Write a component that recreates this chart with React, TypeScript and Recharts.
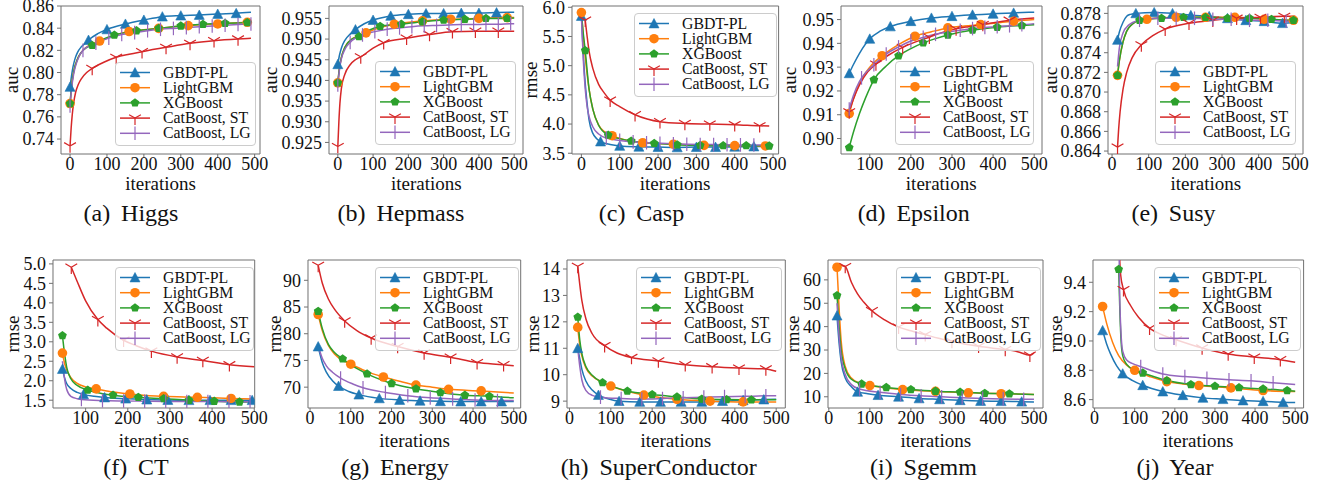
import React from "react";
import { LineChart, Line, XAxis, YAxis, ReferenceArea } from "recharts";

// each point: [iteration, value, marker?]
type Pt = number[];

// ---------- (a) Higgs ----------
const higgsGbdt: Pt[] = [[0,0.787,1],[4,0.797],[8,0.805],[14,0.813],[20,0.818],[30,0.823],[40,0.826],[50,0.8293,1],[75,0.835],[100,0.8389,1],[150,0.8438,1],[200,0.8474,1],[250,0.8504,1],[300,0.8513,1],[350,0.8519,1],[400,0.8528,1],[450,0.8534,1],[490,0.8543]];
const higgsLgb: Pt[] = [[0,0.772,1],[5,0.79],[10,0.801],[20,0.812],[30,0.818],[45,0.823],[60,0.826],[80,0.8284,1],[120,0.8335],[160,0.837,1],[200,0.8385],[240,0.8398,1],[320,0.8423,1],[400,0.8438,1],[480,0.8453,1],[490,0.8455]];
const higgsXgb: Pt[] = [[0,0.772,1],[5,0.79],[10,0.801],[20,0.812],[30,0.818],[45,0.8225],[60,0.8245,1],[90,0.83],[120,0.8338,1],[180,0.8377,1],[240,0.8398,1],[300,0.842,1],[360,0.8435,1],[420,0.8444,1],[480,0.845,1],[490,0.8451]];
const higgsSt: Pt[] = [[0,0.7337,1],[3,0.75],[6,0.762],[10,0.773],[15,0.782],[22,0.789],[32,0.795],[45,0.8],[60,0.8037,1],[90,0.809],[125,0.8137,1],[160,0.8165],[195,0.8188,1],[260,0.8227,1],[325,0.8263,1],[390,0.8287,1],[455,0.8302,1],[490,0.8308]];
const higgsLg: Pt[] = [[0,0.7698,1],[5,0.788],[10,0.799],[20,0.811],[35,0.82,1],[70,0.8265,1],[105,0.831,1],[140,0.8343,1],[175,0.836,1],[210,0.8377,1],[245,0.839,1],[280,0.8398,1],[315,0.8405,1],[350,0.8413,1],[385,0.842,1],[420,0.8427,1],[455,0.8433,1],[490,0.8438,1]];
const higgsTicks = [0.74, 0.76, 0.78, 0.8, 0.82, 0.84, 0.86];

// ---------- (b) Hepmass ----------
const hepGbdt: Pt[] = [[0,0.9439,1],[5,0.9462],[10,0.9478],[20,0.9497],[35,0.9512],[50,0.9523,1],[75,0.9537],[100,0.9546,1],[150,0.9556,1],[200,0.956,1],[250,0.9562,1],[300,0.9562,1],[350,0.9563,1],[400,0.9563,1],[450,0.9564,1],[500,0.9565]];
const hepLgb: Pt[] = [[0,0.9394,1],[5,0.9432],[10,0.9455],[20,0.948],[40,0.95],[60,0.9508],[80,0.9515,1],[120,0.9528],[160,0.9536,1],[240,0.9544,1],[320,0.9548,1],[400,0.955,1],[480,0.9552,1],[500,0.9552]];
const hepXgb: Pt[] = [[0,0.9394,1],[5,0.9432],[10,0.9455],[20,0.948],[40,0.95],[60,0.9506,1],[90,0.9522],[120,0.9531,1],[180,0.9536,1],[240,0.9542,1],[300,0.9546,1],[360,0.9548,1],[420,0.955,1],[480,0.955,1],[500,0.9551]];
const hepSt: Pt[] = [[0,0.924,1],[3,0.93],[6,0.9345],[10,0.938],[20,0.9415],[35,0.9438],[50,0.945],[65,0.9457,1],[100,0.9478],[130,0.9491,1],[195,0.9502,1],[260,0.9511,1],[325,0.9518,1],[390,0.9519,1],[455,0.9519,1],[500,0.9519]];
const hepLg: Pt[] = [[0,0.9389,1],[5,0.9428],[10,0.9452],[20,0.9475],[35,0.9492,1],[70,0.951,1],[105,0.9518,1],[140,0.9524,1],[175,0.9527,1],[210,0.953,1],[245,0.9532,1],[280,0.9533,1],[315,0.9534,1],[350,0.9535,1],[385,0.9535,1],[420,0.9536,1],[455,0.9536,1],[490,0.9537,1],[500,0.9537]];
const hepTicks = [0.925, 0.93, 0.935, 0.94, 0.945, 0.95, 0.955];

// ---------- (c) Casp ----------
const caspGbdt: Pt[] = [[0,5.85,1],[5,5.2],[10,4.7],[15,4.35],[20,4.07],[30,3.84],[40,3.75],[50,3.7,1],[75,3.65],[100,3.625,1],[150,3.61,1],[200,3.605,1],[250,3.6,1],[300,3.605,1],[350,3.605,1],[400,3.61,1],[450,3.615,1],[490,3.62]];
const caspLgb: Pt[] = [[0,5.91,1],[5,5.5],[10,5.15],[20,4.6],[30,4.25],[45,3.98],[60,3.87],[80,3.8,1],[120,3.72],[160,3.68,1],[240,3.655,1],[320,3.635,1],[400,3.63,1],[480,3.625,1],[490,3.625]];
const caspXgb: Pt[] = [[0,5.9],[5,5.55],[10,5.26,1],[20,4.6],[30,4.25],[45,3.98],[70,3.81,1],[100,3.75],[130,3.71,1],[190,3.67,1],[250,3.645,1],[310,3.635,1],[370,3.63,1],[430,3.63,1],[490,3.625,1]];
const caspSt: Pt[] = [[10,5.78,1],[15,5.5],[20,5.25],[30,4.95],[45,4.68],[60,4.53],[75,4.41,1],[100,4.3],[140,4.16,1],[205,4.04,1],[270,4.01,1],[335,4.0,1],[400,3.99,1],[465,3.97,1],[490,3.965]];
const caspLg: Pt[] = [[0,5.85],[5,5.1],[10,4.6],[15,4.3],[20,4.13],[30,3.95],[45,3.83],[65,3.76,1],[100,3.72,1],[135,3.695,1],[170,3.68,1],[205,3.67,1],[240,3.662,1],[275,3.655,1],[310,3.65,1],[345,3.648,1],[380,3.645,1],[415,3.643,1],[450,3.641,1],[490,3.64]];
const caspTicks = [3.5, 4.0, 4.5, 5.0, 5.5, 6.0];

// ---------- (d) Epsilon ----------
const epsGbdt: Pt[] = [[50,0.9274,1],[60,0.931],[75,0.9358],[100,0.9419,1],[125,0.9451],[150,0.9471,1],[200,0.9493,1],[250,0.9507,1],[300,0.9514,1],[350,0.952,1],[400,0.9524,1],[450,0.9528,1],[500,0.9531]];
const epsLgb: Pt[] = [[50,0.9105,1],[60,0.9165],[75,0.9232],[100,0.93],[130,0.9348,1],[170,0.9395],[210,0.943,1],[250,0.9449],[290,0.9465,1],[330,0.9473],[370,0.9479,1],[410,0.9486],[450,0.9493,1],[500,0.95]];
const epsXgb: Pt[] = [[50,0.8962,1],[60,0.9025],[75,0.9105],[90,0.9172],[110,0.9247,1],[140,0.9305],[170,0.9348,1],[200,0.9378],[230,0.9402,1],[260,0.942],[290,0.9435,1],[350,0.9456,1],[410,0.9468,1],[470,0.9475,1],[500,0.9478]];
const epsSt: Pt[] = [[50,0.9112,1],[60,0.9165],[75,0.9225],[95,0.928],[115,0.9313,1],[145,0.935],[180,0.9383,1],[210,0.9405],[245,0.9426,1],[275,0.9445],[310,0.9461,1],[340,0.947],[375,0.9479,1],[440,0.9497,1],[500,0.9507]];
const epsLg: Pt[] = [[50,0.9124,1],[60,0.918],[75,0.924],[80,0.9255,1],[110,0.931,1],[140,0.9355,1],[170,0.9385,1],[200,0.941,1],[230,0.9425,1],[260,0.9438,1],[290,0.9448,1],[320,0.9455,1],[350,0.9462,1],[380,0.9467,1],[410,0.947,1],[440,0.9474,1],[470,0.9478,1],[500,0.9483]];
const epsTicks = [0.9, 0.91, 0.92, 0.93, 0.94, 0.95];

// ---------- (e) Susy ----------
const susyGbdt: Pt[] = [[15,0.8753,1],[20,0.8761],[30,0.8771],[40,0.8777],[50,0.8779],[65,0.878,1],[115,0.8781,1],[165,0.878,1],[215,0.8778,1],[265,0.8777,1],[315,0.8775,1],[365,0.8773,1],[415,0.8772,1],[465,0.877,1],[500,0.8771]];
const susyLgb: Pt[] = [[15,0.8717,1],[20,0.8732],[30,0.8751],[40,0.8762],[55,0.8769],[75,0.8773],[95,0.8774,1],[175,0.8776,1],[255,0.8776,1],[335,0.8776,1],[415,0.8774,1],[495,0.8773,1],[500,0.8773]];
const susyXgb: Pt[] = [[15,0.8717,1],[20,0.8732],[30,0.8751],[40,0.8762],[55,0.8769],[75,0.8773,1],[135,0.8775,1],[195,0.8776,1],[255,0.8776,1],[315,0.8775,1],[375,0.8775,1],[435,0.8774,1],[495,0.8773,1],[500,0.8773]];
const susySt: Pt[] = [[15,0.8644,1],[18,0.8662],[22,0.868],[30,0.8703],[40,0.872],[55,0.8735],[80,0.8748,1],[110,0.8757],[145,0.8764,1],[210,0.877,1],[275,0.8773,1],[340,0.8775,1],[405,0.8776,1],[470,0.8777,1],[500,0.8777]];
const susyLg: Pt[] = [[15,0.8726],[20,0.8745],[30,0.876],[45,0.8768],[75,0.8773,1],[125,0.8775,1],[175,0.8775,1],[225,0.8775,1],[275,0.8774,1],[325,0.8774,1],[375,0.8773,1],[425,0.8773,1],[475,0.8772,1],[500,0.8772]];
const susyTicks = [0.864, 0.866, 0.868, 0.87, 0.872, 0.874, 0.876, 0.878];

// ---------- (f) CT ----------
const ctGbdt: Pt[] = [[45,2.3,1],[50,2.08],[55,1.93],[65,1.8],[80,1.7],[95,1.65,1],[120,1.6],[145,1.57,1],[195,1.54,1],[245,1.515,1],[295,1.505,1],[345,1.5,1],[395,1.5,1],[445,1.5,1],[495,1.5,1],[500,1.5]];
const ctLgb: Pt[] = [[45,2.71,1],[50,2.45],[55,2.28],[65,2.08],[80,1.93],[100,1.84],[125,1.79,1],[165,1.71],[205,1.66,1],[245,1.62],[285,1.6,1],[365,1.575,1],[445,1.545,1],[500,1.53]];
const ctXgb: Pt[] = [[45,3.16,1],[50,2.7],[55,2.35],[65,2.05],[80,1.88],[105,1.76,1],[135,1.68],[165,1.63,1],[225,1.575,1],[285,1.54,1],[345,1.5,1],[405,1.475,1],[465,1.455,1],[500,1.46]];
const ctSt: Pt[] = [[66,4.915,1],[80,4.55],[100,4.05],[129,3.57,1],[150,3.35],[190,3.04,1],[220,2.9],[256,2.76,1],[317,2.61,1],[378,2.52,1],[441,2.41,1],[500,2.36]];
const ctLg: Pt[] = [[45,2.5],[50,2.05],[55,1.78],[65,1.6],[80,1.54],[90,1.52,1],[140,1.49,1],[190,1.48,1],[240,1.475,1],[290,1.47,1],[340,1.468,1],[390,1.465,1],[440,1.463,1],[490,1.46,1],[500,1.46]];
const ctTicks = [1.5, 2.0, 2.5, 3.0, 3.5, 4.0, 4.5, 5.0];

// ---------- (g) Energy ----------
const enGbdt: Pt[] = [[20,77.6,1],[25,76.0],[30,74.6],[40,72.8],[55,71.2],[70,70.2,1],[95,69.2],[120,68.6,1],[170,67.9,1],[220,67.6,1],[270,67.45,1],[320,67.35,1],[370,67.3,1],[420,67.3,1],[470,67.3,1],[500,67.3]];
const enLgb: Pt[] = [[20,83.6,1],[30,80.6],[45,77.8],[60,76.2],[80,75.0],[100,74.3,1],[140,72.9],[180,71.9,1],[220,71.1],[260,70.4,1],[300,70.0],[340,69.6,1],[420,69.3,1],[500,68.9]];
const enXgb: Pt[] = [[20,84.2,1],[30,81.0],[45,78.0],[60,76.5],[80,75.3,1],[110,73.7],[140,72.5,1],[170,71.5],[200,70.7,1],[260,69.7,1],[320,69.0,1],[380,68.5,1],[440,68.3,1],[500,68.0]];
const enSt: Pt[] = [[20,92.8,1],[30,89.5],[45,86.5],[60,84.6],[85,82.4,1],[115,80.6],[150,79.2,1],[215,77.6,1],[280,76.4,1],[345,75.6,1],[410,74.6,1],[475,74.2,1],[500,74.0]];
const enLg: Pt[] = [[20,77.8],[30,75.4],[40,74.0],[55,72.8],[75,71.7,1],[105,70.6],[130,69.9,1],[185,69.0,1],[240,68.4,1],[295,68.0,1],[350,67.8,1],[405,67.6,1],[460,67.5,1],[500,67.5]];
const enTicks = [70, 75, 80, 85, 90];

// ---------- (h) SuperConductor ----------
const scGbdt: Pt[] = [[20,11.0,1],[25,10.6],[30,10.2],[40,9.75],[55,9.42],[70,9.23,1],[95,9.08],[120,9.0,1],[170,8.97,1],[220,8.97,1],[270,8.97,1],[320,8.97,1],[370,9.0,1],[420,9.03,1],[470,9.06,1],[500,9.07]];
const scLgb: Pt[] = [[20,11.79,1],[25,11.1],[30,10.7],[40,10.25],[55,9.95],[75,9.75],[100,9.57,1],[140,9.37],[180,9.23,1],[220,9.14],[260,9.07,1],[340,9.0,1],[420,8.97,1],[500,8.97]];
const scXgb: Pt[] = [[20,12.18,1],[25,11.3],[30,10.8],[40,10.3],[55,9.98],[80,9.7,1],[110,9.52],[140,9.38,1],[200,9.25,1],[260,9.16,1],[320,9.08,1],[380,9.06,1],[440,9.05,1],[500,9.05]];
const scSt: Pt[] = [[20,14.1,1],[25,13.4],[30,12.8],[40,12.1],[55,11.55],[85,11.1,1],[115,10.82],[150,10.65,1],[215,10.52,1],[280,10.38,1],[345,10.3,1],[410,10.25,1],[475,10.22,1],[500,10.13]];
const scLg: Pt[] = [[20,11.0],[25,10.3],[30,9.8],[40,9.4],[55,9.22],[75,9.15,1],[125,9.1,1],[175,9.08,1],[225,9.1,1],[275,9.13,1],[325,9.15,1],[375,9.17,1],[425,9.18,1],[475,9.2,1],[500,9.2]];
const scTicks = [9, 10, 11, 12, 13, 14];

// ---------- (i) Sgemm ----------
const sgGbdt: Pt[] = [[20,44.7,1],[25,33],[30,25],[40,18],[55,14.3],[70,12.1,1],[95,11.3],[120,10.7,1],[170,10.0,1],[220,9.3,1],[270,8.9,1],[320,8.5,1],[370,8.2,1],[420,8.1,1],[470,7.9,1],[500,7.8]];
const sgLgb: Pt[] = [[20,65.4,1],[25,48],[30,34],[40,23],[55,18],[75,15.8],[100,14.8,1],[140,13.8],[180,13.1,1],[260,12.3,1],[340,11.7,1],[420,11.3,1],[500,11.0]];
const sgXgb: Pt[] = [[20,53.3,1],[25,40],[30,30],[40,22],[55,17.5],[80,15.5,1],[110,14.6],[140,14.0,1],[200,13.1,1],[260,12.4,1],[320,12.0,1],[380,11.5,1],[440,11.3,1],[500,11.0]];
const sgSt: Pt[] = [[20,66.5],[40,65.7,1],[55,59],[70,54],[85,50.5],[105,46.8,1],[135,43],[170,39.8,1],[200,38.2],[235,36.6,1],[265,35.1],[300,33.7,1],[330,32.6],[365,31.6,1],[400,30.8],[430,30.2,1],[460,29.3],[490,27.8,1],[500,28.8]];
const sgLg: Pt[] = [[20,50],[25,36],[30,27],[40,19.5],[55,15.2],[75,13.3,1],[125,11.9,1],[175,11.0,1],[225,10.4,1],[275,10.0,1],[325,9.6,1],[375,9.3,1],[425,9.1,1],[475,8.95,1],[500,8.9]];
const sgTicks = [10, 20, 30, 40, 50, 60];

// ---------- (j) Year ----------
const yrGbdt: Pt[] = [[20,9.072,1],[30,8.98],[40,8.91],[55,8.83],[70,8.777,1],[95,8.73],[120,8.698,1],[170,8.655,1],[220,8.63,1],[270,8.612,1],[320,8.603,1],[370,8.594,1],[420,8.589,1],[470,8.582,1],[500,8.58]];
const yrLgb: Pt[] = [[20,9.235,1],[30,9.12],[45,8.99],[60,8.9],[80,8.835],[100,8.8,1],[140,8.755],[180,8.723,1],[220,8.707],[260,8.696,1],[340,8.68,1],[420,8.662,1],[500,8.655]];
const yrXgb: Pt[] = [[60,9.488,1],[63,9.2],[66,9.0],[70,8.9],[80,8.84],[100,8.8],[120,8.782,1],[180,8.73,1],[240,8.703,1],[300,8.692,1],[360,8.682,1],[420,8.673,1],[480,8.662,1],[500,8.657]];
const yrSt: Pt[] = [[60,9.7],[65,9.45],[72,9.35,1],[90,9.24],[110,9.16],[137,9.087,1],[170,9.04],[203,9.008,1],[268,8.952,1],[333,8.911,1],[398,8.89,1],[463,8.872,1],[500,8.855]];
const yrLg: Pt[] = [[60,9.9],[62,9.4],[65,9.1],[70,8.93],[80,8.87],[95,8.845],[115,8.825,1],[170,8.775,1],[225,8.757,1],[280,8.746,1],[335,8.736,1],[390,8.728,1],[445,8.715,1],[500,8.703]];
const yrTicks = [8.6, 8.8, 9.0, 9.2, 9.4];

const itTicks = [0, 100, 200, 300, 400, 500];
const itTicksFrom100 = [100, 200, 300, 400, 500];

const seriesNames = ["GBDT-PL", "LightGBM", "XGBoost", "CatBoost, ST", "CatBoost, LG"];
const seriesColors = ["#1f77b4", "#ff7f0e", "#2ca02c", "#d62728", "#9467bd"];
const seriesMarkers = ["tri", "circle", "pent", "y", "bar"];

const FRAME = "#707070";
const FONT = "'Liberation Serif', 'Times New Roman', serif";
const TEXT = "#111";
const TICK_FS = 18;

const panels = [
  { cap: "(a)", title: "Higgs", yl: "auc", data: [higgsGbdt, higgsLgb, higgsXgb, higgsSt, higgsLg], xd: [-24.5, 514.5], yd: [0.7265, 0.86], yt: higgsTicks, xt: itTicks, dec: 2,
    box: { l: 61, t: 6, w: 199, h: 148 }, leg: { l: 115, t: 62, w: 141 }, ylOff: 49, capX: 131 },
  { cap: "(b)", title: "Hepmass", yl: "auc", data: [hepGbdt, hepLgb, hepXgb, hepSt, hepLg], xd: [-25, 525], yd: [0.9222, 0.958], yt: hepTicks, xt: itTicks, dec: 3,
    box: { l: 329.3, t: 6, w: 194, h: 148 }, leg: { l: 375, t: 61, w: 141 }, ylOff: 58, capX: 401 },
  { cap: "(c)", title: "Casp", yl: "rmse", data: [caspGbdt, caspLgb, caspXgb, caspSt, caspLg], xd: [-24.5, 514.5], yd: [3.487, 6.022], yt: caspTicks, xt: itTicks, dec: 1,
    box: { l: 571.7, t: 6, w: 206.6, h: 148 }, leg: { l: 634, t: 13, w: 143 }, ylOff: 41, capX: 641.5 },
  { cap: "(d)", title: "Epsilon", yl: "auc", data: [epsGbdt, epsLgb, epsXgb, epsSt, epsLg], xd: [30, 519], yd: [0.8935, 0.9557], yt: epsTicks, xt: itTicksFrom100, dec: 2,
    box: { l: 840.7, t: 6, w: 201, h: 148 }, leg: { l: 895, t: 61, w: 139 }, ylOff: 51, capX: 913.7 },
  { cap: "(e)", title: "Susy", yl: "auc", data: [susyGbdt, susyLgb, susyXgb, susySt, susyLg], xd: [-11, 521], yd: [0.8637, 0.87875], yt: susyTicks, xt: itTicks, dec: 3,
    box: { l: 1108.3, t: 6, w: 195, h: 148 }, leg: { l: 1155, t: 61, w: 141 }, ylOff: 57, capX: 1173.5 },
  { cap: "(f)", title: "CT", yl: "rmse", data: [ctGbdt, ctLgb, ctXgb, ctSt, ctLg], xd: [22.6, 501], yd: [1.3, 5.1], yt: ctTicks, xt: itTicksFrom100, dec: 1,
    box: { l: 53.3, t: 260, w: 201.7, h: 148 }, leg: { l: 115, t: 267, w: 139 }, ylOff: 40, capX: 136 },
  { cap: "(g)", title: "Energy", yl: "rmse", data: [enGbdt, enLgb, enXgb, enSt, enLg], xd: [-5, 517], yd: [66.1, 93.8], yt: enTicks, xt: itTicks, dec: 0,
    box: { l: 308.3, t: 260, w: 212.7, h: 148 }, leg: { l: 375, t: 267, w: 144 }, ylOff: 33, capX: 395 },
  { cap: "(h)", title: "SuperConductor", yl: "rmse", data: [scGbdt, scLgb, scXgb, scSt, scLg], xd: [-6, 522], yd: [8.74, 14.34], yt: scTicks, xt: itTicks, dec: 0,
    box: { l: 566.7, t: 260, w: 218.3, h: 148 }, leg: { l: 636, t: 267, w: 146 }, ylOff: 34, capX: 658.7 },
  { cap: "(i)", title: "Sgemm", yl: "rmse", data: [sgGbdt, sgLgb, sgXgb, sgSt, sgLg], xd: [-2, 522], yd: [5.2, 68.5], yt: sgTicks, xt: itTicks, dec: 0,
    box: { l: 828.3, t: 260, w: 215, h: 148 }, leg: { l: 896, t: 267, w: 145 }, ylOff: 35, capX: 923.5 },
  { cap: "(j)", title: "Year", yl: "rmse", data: [yrGbdt, yrLgb, yrXgb, yrSt, yrLg], xd: [-4, 521], yd: [8.543, 9.552], yt: yrTicks, xt: itTicks, dec: 1,
    box: { l: 1092.7, t: 260, w: 210.6, h: 148 }, leg: { l: 1154, t: 267, w: 147 }, ylOff: 37, capX: 1175 },
];

function markerShape(kind: string, color: string, x: number, y: number) {
  if (kind === "tri") {
    return <polygon points={`${x},${y - 5} ${x - 5},${y + 4.4} ${x + 5},${y + 4.4}`} fill={color} stroke={color} strokeWidth={0.6} />;
  }
  if (kind === "circle") {
    return <circle cx={x} cy={y} r={4.8} fill={color} />;
  }
  if (kind === "pent") {
    const pts = [0, 1, 2, 3, 4]
      .map((k) => {
        const a = (-90 + 72 * k) * (Math.PI / 180);
        return `${x + 4.6 * Math.cos(a)},${y + 4.6 * Math.sin(a)}`;
      })
      .join(" ");
    return <polygon points={pts} fill={color} />;
  }
  if (kind === "y") {
    return (
      <path
        d={`M${x},${y}L${x},${y + 6.8}M${x},${y}L${x + 5.9},${y - 3.4}M${x},${y}L${x - 5.9},${y - 3.4}`}
        stroke={color}
        strokeWidth={1.2}
        fill="none"
      />
    );
  }
  return <line x1={x} x2={x} y1={y - 6.8} y2={y + 6.8} stroke={color} strokeWidth={1.2} />;
}

const YW = 70;
const XH = 30;
const MT = 12;
const MR = 24;
const ROW = 15.2;

// legend drawn in SVG so each label sits on its own baseline row
function LegendBox({ l, t, w }: { l: number; t: number; w: number }) {
  return (
    <div
      style={{
        position: "absolute",
        left: l,
        top: t,
        width: w,
        height: 84,
        background: "rgba(255,255,255,0.8)",
        border: "1px solid #cccccc",
        borderRadius: 4,
        boxSizing: "border-box",
      }}
    >
      <svg width={w - 2} height={82} style={{ position: "absolute", left: 0, top: 0 }}>
        {seriesNames.map((name, i) => {
          const cy = 9.5 + i * ROW;
          return (
            <g key={name}>
              <line x1={4} x2={34} y1={cy} y2={cy} stroke={seriesColors[i]} strokeWidth={1.5} />
              {markerShape(seriesMarkers[i], seriesColors[i], 19, cy)}
              <text x={47} y={cy + 5} fontSize={15.8} fill={TEXT}>
                {name}
              </text>
            </g>
          );
        })}
      </svg>
    </div>
  );
}

function Panel({ p }: { p: (typeof panels)[number] }) {
  const { l, t, w, h } = p.box;
  const top = t < 200;
  const xlabelY = top ? 183.5 : 441;
  const capY = top ? 213 : 467;
  return (
    <>
      <div style={{ position: "absolute", left: l - YW, top: t - MT }}>
        <LineChart width={YW + w + MR} height={MT + h + XH} margin={{ top: MT, right: MR, bottom: 0, left: 0 }}>
          <XAxis
            type="number"
            dataKey="x"
            domain={p.xd}
            ticks={p.xt}
            allowDataOverflow
            interval={0}
            height={XH}
            tickSize={4}
            tickMargin={-1}
            axisLine={false}
            tickLine={{ stroke: FRAME }}
            tick={{ fontSize: TICK_FS, fill: TEXT }}
          />
          <YAxis
            type="number"
            dataKey="y"
            domain={p.yd}
            ticks={p.yt}
            allowDataOverflow
            interval={0}
            width={YW}
            tickSize={4}
            tickMargin={3}
            axisLine={false}
            tickLine={{ stroke: FRAME }}
            tick={{ fontSize: TICK_FS, fill: TEXT }}
            tickFormatter={(v: number) => v.toFixed(p.dec)}
          />
          {p.data.map((pts, i) => (
            <Line
              key={seriesNames[i]}
              data={pts.map((d) => ({ x: d[0], y: d[1], m: d[2] === 1 }))}
              dataKey="y"
              type="monotone"
              stroke={seriesColors[i]}
              strokeWidth={1.5}
              isAnimationActive={false}
              activeDot={false}
              dot={(d: any) => (
                <g key={`m${i}-${d.index}`}>
                  {d.payload && d.payload.m ? markerShape(seriesMarkers[i], seriesColors[i], d.cx, d.cy) : null}
                </g>
              )}
            />
          ))}
          <ReferenceArea x1={p.xd[0]} x2={p.xd[1]} y1={p.yd[0]} y2={p.yd[1]} fill="none" stroke={FRAME} strokeWidth={1} ifOverflow="visible" />
        </LineChart>
      </div>

      <LegendBox l={p.leg.l} t={p.leg.t} w={p.leg.w} />

      <div
        style={{
          position: "absolute",
          left: l - p.ylOff,
          top: t + h / 2,
          transform: "translate(-50%, -50%) rotate(-90deg)",
          fontSize: 19,
          lineHeight: "20px",
          whiteSpace: "nowrap",
        }}
      >
        {p.yl}
      </div>

      <div style={{ position: "absolute", left: l + w / 2 - 60, width: 120, top: xlabelY - 10, textAlign: "center", fontSize: 19, lineHeight: "20px" }}>
        iterations
      </div>

      <div style={{ position: "absolute", left: p.capX - 150, width: 300, top: capY - 14, textAlign: "center", fontSize: 24, lineHeight: "28px", whiteSpace: "pre" }}>
        {`${p.cap}\u2009 ${p.title}`}
      </div>
    </>
  );
}

export default function App() {
  return (
    <div
      style={{
        position: "absolute",
        left: 0,
        top: 0,
        width: 1322,
        height: 486,
        background: "#fff",
        fontFamily: FONT,
        color: TEXT,
        overflow: "hidden",
      }}
    >
      {panels.map((p) => (
        <Panel key={p.cap} p={p} />
      ))}
    </div>
  );
}
